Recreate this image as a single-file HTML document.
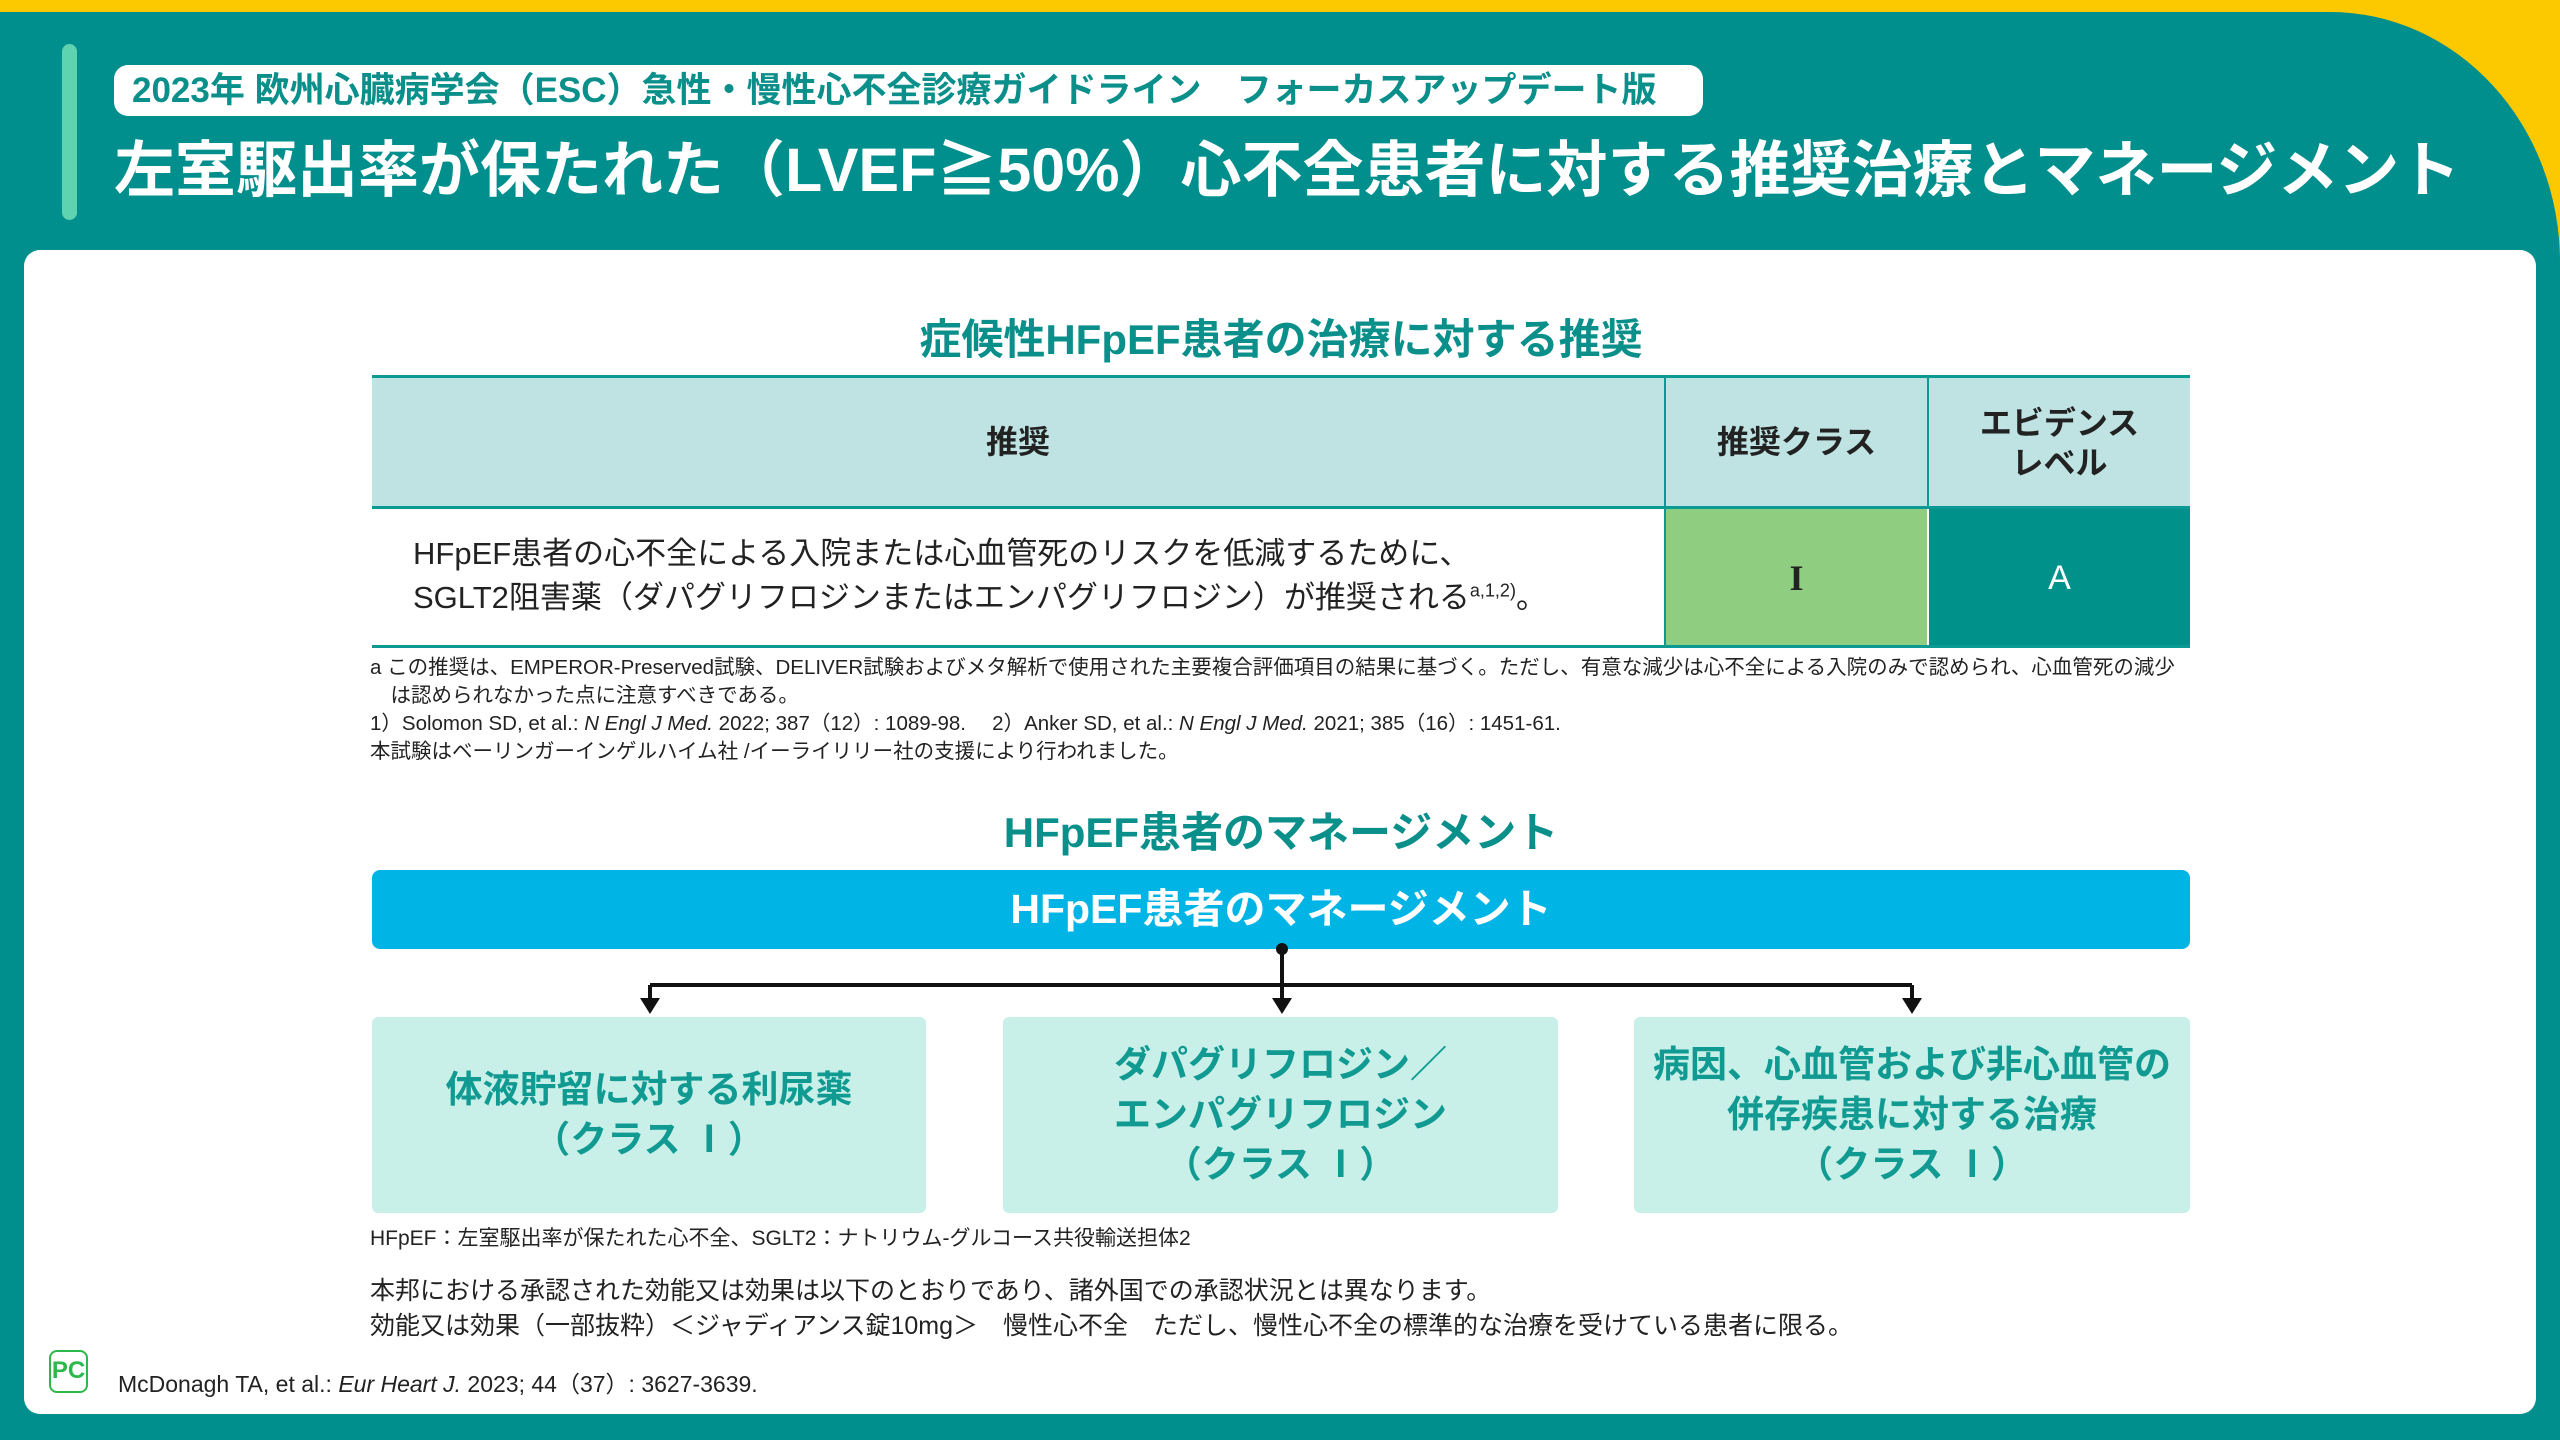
<!DOCTYPE html>
<html><head><meta charset="utf-8"><style>
*{margin:0;padding:0;box-sizing:border-box}
body{width:2560px;height:1440px;position:relative;overflow:hidden;background:#fcc800;font-family:"Liberation Sans","Noto Sans CJK JP",sans-serif}
.a{position:absolute;white-space:nowrap}
#bg{position:absolute;left:0;top:12px;width:2560px;height:1428px;background:#008f8c;border-top-right-radius:230px 250px}
#card{position:absolute;left:24px;top:250px;width:2512px;height:1164px;background:#fff;border-radius:16px}
.c{text-align:center}
.box{position:absolute;top:1017px;height:196px;background:#c8f0e8;border-radius:6px;display:flex;align-items:center;justify-content:center;text-align:center;color:#109a92;font-weight:bold;font-size:37px;line-height:50px}
</style></head><body>
<div id="bg"></div>
<div class="a" style="left:62px;top:44px;width:15px;height:176px;background:#5fd3b0;border-radius:8px"></div>
<div class="a" style="left:114px;top:65px;width:1589px;height:51px;background:#fff;border-radius:14px"></div>
<div class="a" style="left:132px;top:68px;font-size:35px;line-height:46px;color:#0a8f8a;font-weight:bold">2023年 欧州心臓病学会（ESC）急性・慢性心不全診療ガイドライン　フォーカスアップデート版</div>
<div class="a" style="left:114px;top:130px;font-size:61px;line-height:80px;color:#fff;font-weight:bold">左室駆出率が保たれた（LVEF≧50%）心不全患者に対する推奨治療とマネージメント</div>
<div id="card"></div>
<div class="a c" style="left:372px;width:1818px;top:312px;font-size:42px;line-height:56px;color:#0a8f8a;font-weight:bold">症候性HFpEF患者の治療に対する推奨</div>
<div class="a" style="left:372px;top:375px;width:1818px;height:133px;background:#bfe3e3;border-top:3px solid #0a9a93"></div>
<div class="a" style="left:1664px;top:375px;width:2px;height:273px;background:#0a9a93"></div>
<div class="a" style="left:1927px;top:375px;width:2px;height:133px;background:#0a9a93"></div>
<div class="a c" style="left:372px;width:1292px;top:420px;font-size:32px;line-height:44px;font-weight:bold;color:#222">推奨</div>
<div class="a c" style="left:1666px;width:261px;top:420px;font-size:32px;line-height:44px;font-weight:bold;color:#222">推奨クラス</div>
<div class="a c" style="left:1929px;width:261px;top:403px;font-size:32px;line-height:40px;font-weight:bold;color:#222;white-space:normal">エビデンス<br>レベル</div>
<div class="a" style="left:372px;top:506px;width:1818px;height:3px;background:#0a9a93"></div>
<div class="a" style="left:1666px;top:509px;width:261px;height:139px;background:#8fce80"></div>
<div class="a" style="left:1929px;top:509px;width:261px;height:139px;background:#00918a"></div>
<div class="a c" style="left:1666px;width:261px;top:553px;font-size:36px;line-height:50px;font-family:'Liberation Serif',serif;font-weight:bold;color:#222">I</div>
<div class="a c" style="left:1929px;width:261px;top:553px;font-size:34px;line-height:50px;color:#fff">A</div>
<div class="a" style="left:372px;top:645px;width:1818px;height:3px;background:#0a9a93"></div>
<div class="a" style="left:413px;top:532px;font-size:31px;line-height:44px;color:#222">HFpEF患者の心不全による入院または心血管死のリスクを低減するために、<br>SGLT2阻害薬（ダパグリフロジンまたはエンパグリフロジン）が推奨される<sup style="font-size:18px;line-height:0">a,1,2)</sup>。</div>
<div class="a" style="left:370px;top:654px;font-size:20.5px;line-height:28px;color:#222;white-space:normal;width:1830px">a この推奨は、EMPEROR-Preserved試験、DELIVER試験およびメタ解析で使用された主要複合評価項目の結果に基づく。ただし、有意な減少は心不全による入院のみで認められ、心血管死の減少<br>　は認められなかった点に注意すべきである。<br>1）Solomon SD, et al.: <i>N Engl J Med.</i> 2022; 387（12）: 1089-98.　 2）Anker SD, et al.: <i>N Engl J Med.</i> 2021; 385（16）: 1451-61.<br>本試験はベーリンガーインゲルハイム社 /イーライリリー社の支援により行われました。</div>
<div class="a c" style="left:372px;width:1818px;top:805px;font-size:42px;line-height:56px;color:#0a8f8a;font-weight:bold">HFpEF患者のマネージメント</div>
<div class="a c" style="left:372px;top:870px;width:1818px;height:79px;background:#00b4e6;border-radius:8px;color:#fff;font-weight:bold;font-size:41px;line-height:79px">HFpEF患者のマネージメント</div>
<svg class="a" style="left:0;top:0" width="2560" height="1440">
<circle cx="1282" cy="949" r="6" fill="#111"/>
<path d="M1282 949V1000M650 985H1912M650 985V1003M1912 985V1003" stroke="#111" stroke-width="4" fill="none"/>
<path d="M640 998H660L650 1014ZM1272 998H1292L1282 1014ZM1902 998H1922L1912 1014Z" fill="#111"/>
</svg>
<div class="box" style="left:372px;width:554px">体液貯留に対する利尿薬<br>（クラス Ⅰ）</div>
<div class="box" style="left:1003px;width:555px">ダパグリフロジン／<br>エンパグリフロジン<br>（クラス Ⅰ）</div>
<div class="box" style="left:1634px;width:556px">病因、心血管および非心血管の<br>併存疾患に対する治療<br>（クラス Ⅰ）</div>
<div class="a" style="left:370px;top:1225px;font-size:21px;line-height:28px;color:#222">HFpEF：左室駆出率が保たれた心不全、SGLT2：ナトリウム-グルコース共役輸送担体2</div>
<div class="a" style="left:370px;top:1274px;font-size:25px;line-height:35px;color:#222">本邦における承認された効能又は効果は以下のとおりであり、諸外国での承認状況とは異なります。<br>効能又は効果（一部抜粋）＜ジャディアンス錠10mg＞　慢性心不全　ただし、慢性心不全の標準的な治療を受けている患者に限る。</div>
<div class="a" style="left:49px;top:1350px;width:39px;height:43px;border:2px solid #2db84a;border-radius:8px;color:#2db84a;font-weight:bold;font-size:24px;line-height:38px;text-align:center">PC</div>
<div class="a" style="left:118px;top:1369px;font-size:23px;line-height:30px;color:#222">McDonagh TA, et al.: <i>Eur Heart J.</i> 2023; 44（37）: 3627-3639.</div>
</body></html>
